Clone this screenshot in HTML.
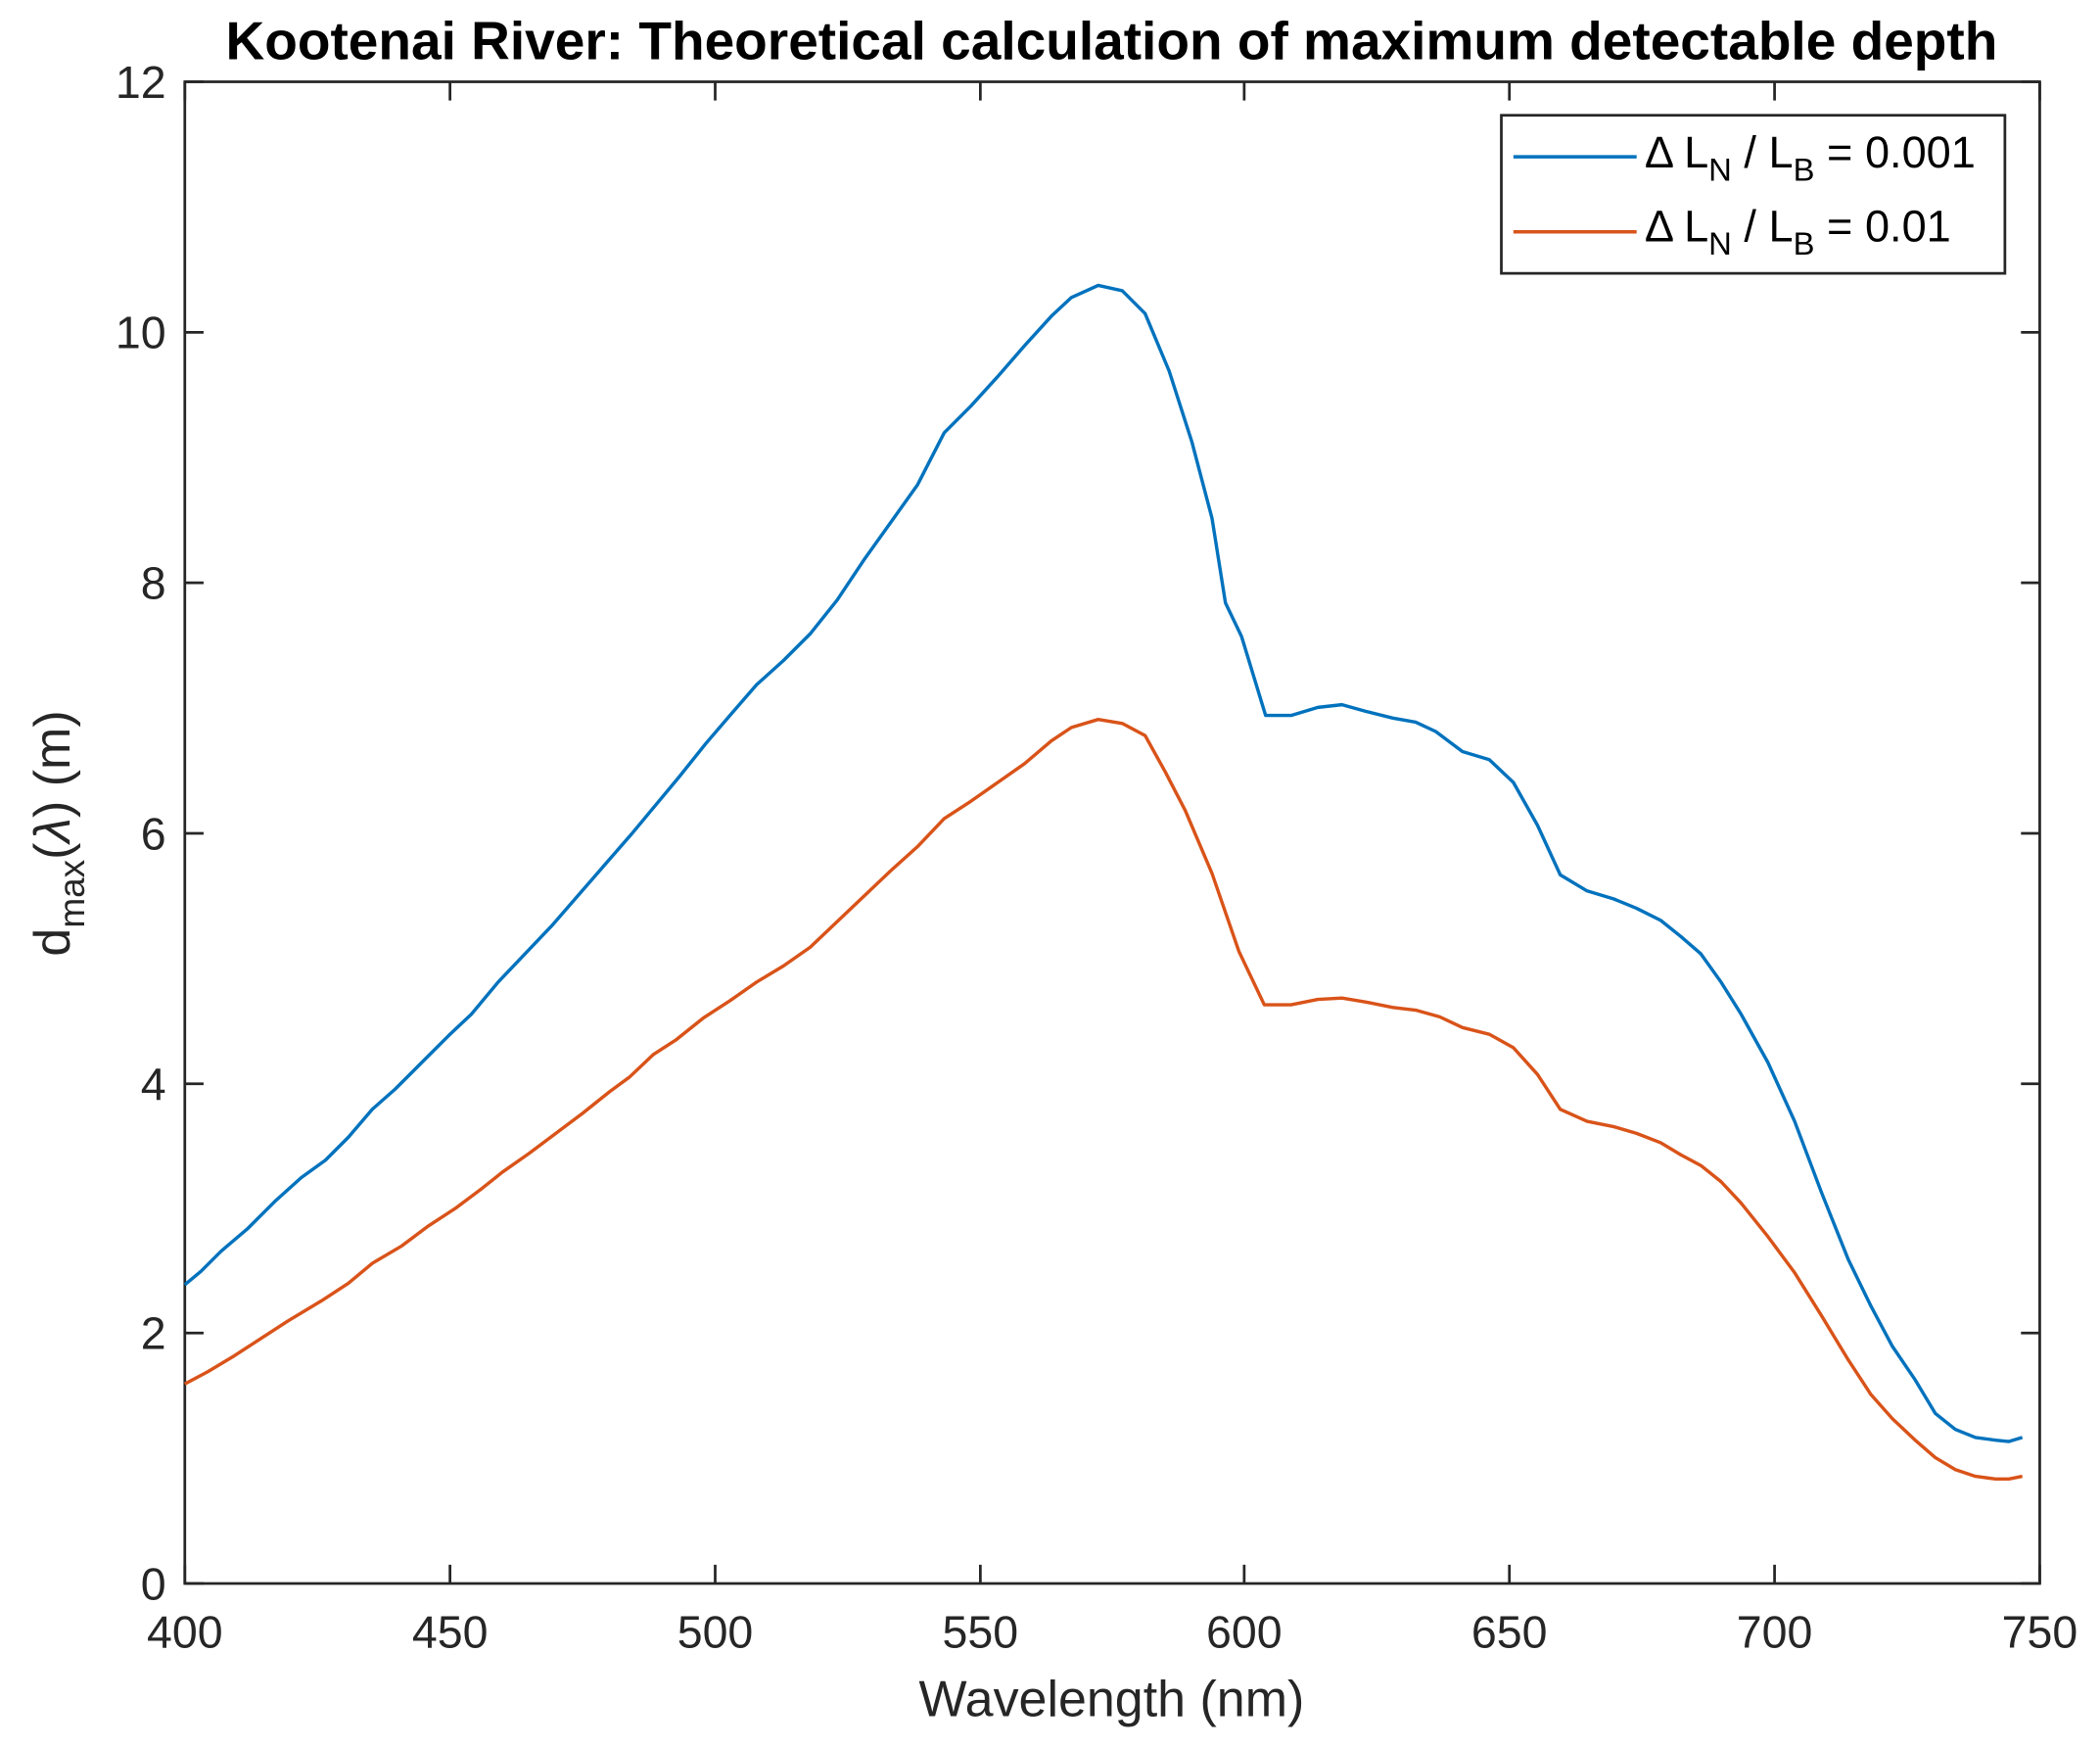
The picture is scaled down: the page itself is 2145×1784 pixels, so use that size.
<!DOCTYPE html>
<html><head><meta charset="utf-8"><style>html,body{margin:0;padding:0;background:#fff}svg{display:block}</style></head>
<body>
<svg width="2145" height="1784" viewBox="0 0 1568 1304" xmlns="http://www.w3.org/2000/svg" font-family="'Liberation Sans', sans-serif">
<rect width="1568" height="1304" fill="#fff"/>
<text x="830" y="44" font-size="40" font-weight="bold" text-anchor="middle" fill="#000" textLength="1323" lengthAdjust="spacingAndGlyphs">Kootenai River: Theoretical calculation of maximum detectable depth</text>
<g stroke="#262626" stroke-width="2" fill="none">
<rect x="138" y="61" width="1385" height="1121"/>
<path d="M138,1182v-14M336,1182v-14M534,1182v-14M732,1182v-14M929,1182v-14M1127,1182v-14M1325,1182v-14M1523,1182v-14
M138,61v14M336,61v14M534,61v14M732,61v14M929,61v14M1127,61v14M1325,61v14M1523,61v14
M138,1182h14M138,995h14M138,809h14M138,622h14M138,435h14M138,248h14M138,61h14
M1523,1182h-14M1523,995h-14M1523,809h-14M1523,622h-14M1523,435h-14M1523,248h-14M1523,61h-14"/>
</g>
<g font-size="34" fill="#262626" text-anchor="end">
<text x="124" y="1194">0</text><text x="124" y="1007">2</text><text x="124" y="821">4</text><text x="124" y="634">6</text><text x="124" y="447">8</text><text x="124" y="260">10</text><text x="124" y="73">12</text>
</g>
<g font-size="34" fill="#262626" text-anchor="middle">
<text x="138" y="1230">400</text><text x="336" y="1230">450</text><text x="534" y="1230">500</text><text x="732" y="1230">550</text><text x="929" y="1230">600</text><text x="1127" y="1230">650</text><text x="1325" y="1230">700</text><text x="1523" y="1230">750</text>
</g>
<text x="830" y="1281" font-size="38" fill="#262626" text-anchor="middle">Wavelength (nm)</text>
<text transform="translate(52,622) rotate(-90)" font-size="38" fill="#262626" text-anchor="middle">d<tspan font-size="27" dy="11">max</tspan><tspan dy="-11">(</tspan><tspan font-style="italic">λ</tspan>) (m)</text>
<polyline fill="none" stroke="#0072BD" stroke-width="2.5" stroke-linejoin="round" points="138,959 150,949 165,934 185,917 205,897 225,879 243,866 260,849 278,828 295,813 315,793 335,773 352,757 372,733 392,712 412,691 432,668 452,645 472,622 487,604 507,580 527,555 545,534 565,511 585,493 605,473 625,448 645,418 665,390 685,362 705,323 725,303 745,281 765,258 785,236 800,222 820,213 838,217 855,234 873,277 890,330 905,387 915,450 927,475 945,534 964,534 984,528 1002,526 1020,531 1040,536 1057,539 1072,546 1092,561 1112,567 1130,584 1148,616 1165,653 1185,665 1205,671 1222,678 1240,687 1255,699 1270,712 1285,733 1300,757 1320,793 1340,837 1360,890 1380,940 1397,975 1413,1005 1430,1030 1445,1055 1460,1067 1475,1073 1490,1075 1500,1076 1510,1073"/>
<polyline fill="none" stroke="#D95319" stroke-width="2.5" stroke-linejoin="round" points="138,1033 155,1024 175,1012 195,999 215,986 240,971 260,958 278,943 300,930 320,915 340,902 360,887 375,875 395,861 415,846 435,831 455,815 470,804 488,787 505,776 525,760 545,747 565,733 585,721 605,707 625,688 645,669 665,650 685,632 705,611 725,598 745,584 765,570 785,553 800,543 820,537 838,540 855,549 870,576 885,605 905,652 925,710 944,750 964,750 984,746 1002,745 1020,748 1040,752 1057,754 1075,759 1092,767 1112,772 1130,782 1148,802 1165,828 1185,837 1205,841 1222,846 1240,853 1255,862 1270,870 1285,882 1300,898 1320,923 1340,950 1360,982 1380,1015 1397,1041 1413,1059 1430,1075 1445,1088 1460,1097 1475,1102 1490,1104 1500,1104 1510,1102"/>
<rect x="1121" y="86" width="376" height="118" fill="#fff" stroke="#262626" stroke-width="2"/>
<line x1="1130" y1="117" x2="1222" y2="117" stroke="#0072BD" stroke-width="2.5"/>
<line x1="1130" y1="173" x2="1222" y2="173" stroke="#D95319" stroke-width="2.5"/>
<g font-size="33" fill="#000">
<text x="1228" y="125">Δ L<tspan font-size="24" dy="10">N</tspan><tspan dy="-10"> / L</tspan><tspan font-size="24" dy="10">B</tspan><tspan dy="-10"> = 0.001</tspan></text>
<text x="1228" y="180">Δ L<tspan font-size="24" dy="10">N</tspan><tspan dy="-10"> / L</tspan><tspan font-size="24" dy="10">B</tspan><tspan dy="-10"> = 0.01</tspan></text>
</g>
</svg>
</body></html>
